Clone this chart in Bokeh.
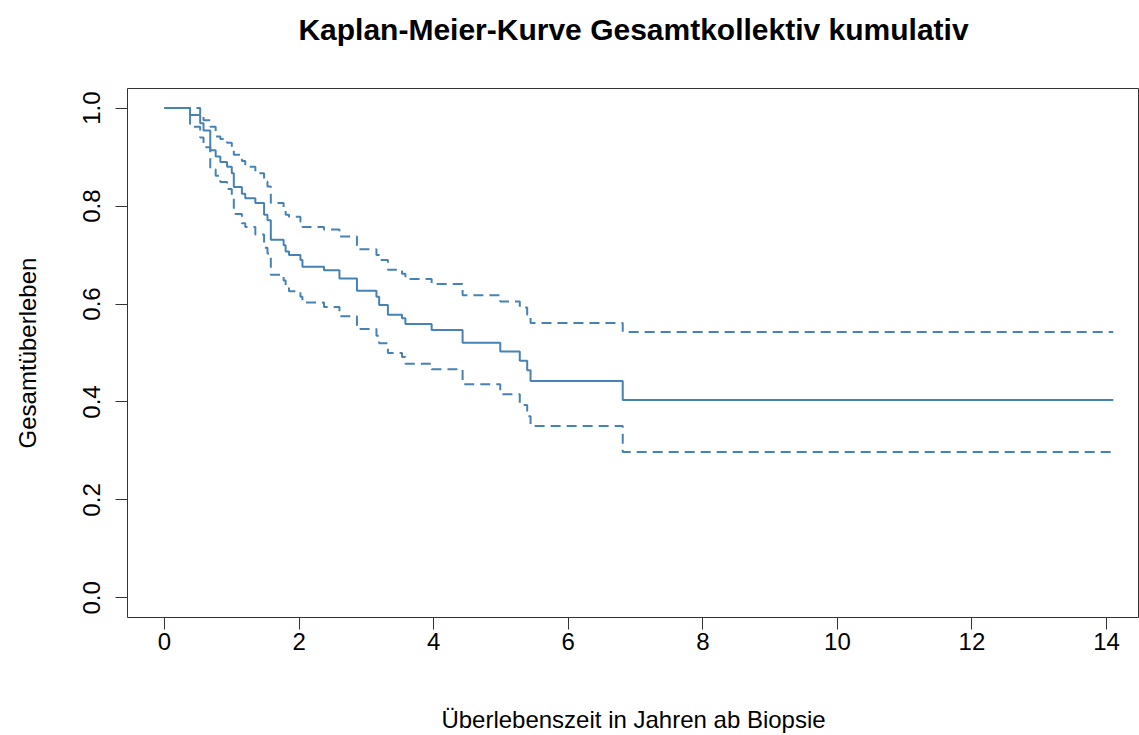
from bokeh.plotting import figure
from bokeh.models import Range1d, FixedTicker, Title
from bokeh.embed import file_html
from bokeh.resources import INLINE

# Kaplan-Meier estimate (time in years, survival)
times = [0.00, 0.38, 0.53, 0.58, 0.68, 0.76, 0.83, 0.93, 1.00, 1.03, 1.15, 1.20,
         1.35, 1.48, 1.53, 1.58, 1.77, 1.80, 1.85, 2.02, 2.05, 2.37, 2.60, 2.86,
         3.15, 3.19, 3.32, 3.53, 3.58, 3.97, 4.43, 4.99, 5.28, 5.39, 5.44, 6.81, 14.1]
surv = [1.000, 0.986, 0.969, 0.954, 0.914, 0.901, 0.890, 0.880, 0.867, 0.839, 0.825, 0.816,
        0.806, 0.782, 0.771, 0.731, 0.720, 0.707, 0.700, 0.690, 0.676, 0.669, 0.652, 0.627,
        0.615, 0.598, 0.578, 0.571, 0.559, 0.547, 0.521, 0.503, 0.484, 0.465, 0.443, 0.404, 0.404]
upper = [1.000, 1.000, 0.986, 0.975, 0.962, 0.942, 0.937, 0.929, 0.918, 0.905, 0.892, 0.880,
         0.867, 0.850, 0.840, 0.806, 0.795, 0.782, 0.778, 0.768, 0.757, 0.752, 0.738, 0.712,
         0.700, 0.690, 0.670, 0.662, 0.651, 0.641, 0.618, 0.605, 0.593, 0.578, 0.561, 0.543, 0.543]
lower = [1.000, 0.962, 0.940, 0.920, 0.875, 0.862, 0.849, 0.835, 0.818, 0.784, 0.765, 0.757,
         0.742, 0.715, 0.703, 0.660, 0.648, 0.634, 0.626, 0.615, 0.603, 0.594, 0.575, 0.549,
         0.535, 0.520, 0.500, 0.492, 0.478, 0.467, 0.436, 0.416, 0.394, 0.371, 0.351, 0.298, 0.298]

x_ticks = [0, 2, 4, 6, 8, 10, 12, 14]
y_ticks = [0.0, 0.2, 0.4, 0.6, 0.8, 1.0]
y_tick_labels = {0.0: "0.0", 0.2: "0.2", 0.4: "0.4", 0.6: "0.6", 0.8: "0.8", 1.0: "1.0"}

title = "Kaplan-Meier-Kurve Gesamtkollektiv kumulativ"
xlabel = "Überlebenszeit in Jahren ab Biopsie"
ylabel = "Gesamtüberleben"

color = "#4682B4"
FONT = "Liberation Sans"

p = figure(width=1139, height=735, output_backend="svg", toolbar_location=None,
           x_range=Range1d(-0.55, 14.49), y_range=Range1d(-0.04, 1.04),
           min_border_left=127, min_border_right=0, min_border_top=88, min_border_bottom=117)
p.background_fill_color = "white"
p.border_fill_color = "white"
p.outline_line_color = "#333333"
p.outline_line_width = 1
p.grid.visible = False

# spacer between frame and title (closest to the frame), then the title itself
p.add_layout(Title(text=" ", text_font=FONT, text_font_size="10px", standoff=30), "above")
p.add_layout(Title(text=title, align="center", text_font=FONT, text_font_size="30px",
                   text_font_style="bold", text_color="black", standoff=0), "above")

p.step(times, surv, mode="after", line_color=color, line_width=2)
p.step(times, upper, mode="after", line_color=color, line_width=2, line_dash="10 6")
p.step(times, lower, mode="after", line_color=color, line_width=2, line_dash="10 6")

for ax in (p.xaxis[0], p.yaxis[0]):
    ax.axis_line_color = None
    ax.major_tick_line_color = "#333333"
    ax.major_tick_in = 0
    ax.major_tick_out = 12
    ax.minor_tick_line_color = None
    ax.major_label_text_font = FONT
    ax.major_label_text_font_size = "24px"
    ax.major_label_text_color = "black"
    ax.axis_label_text_font = FONT
    ax.axis_label_text_font_size = "24px"
    ax.axis_label_text_font_style = "normal"
    ax.axis_label_text_color = "black"

p.xaxis.ticker = FixedTicker(ticks=x_ticks)
p.xaxis.major_label_standoff = 3
p.xaxis.axis_label = xlabel
p.xaxis.axis_label_standoff = 53

p.yaxis.ticker = FixedTicker(ticks=y_ticks)
p.yaxis.major_label_overrides = y_tick_labels
p.yaxis.major_label_orientation = "vertical"
p.yaxis.major_label_standoff = 15
p.yaxis.axis_label = ylabel
p.yaxis.axis_label_standoff = 40

open("out.html", "w").write(file_html(p, INLINE))
